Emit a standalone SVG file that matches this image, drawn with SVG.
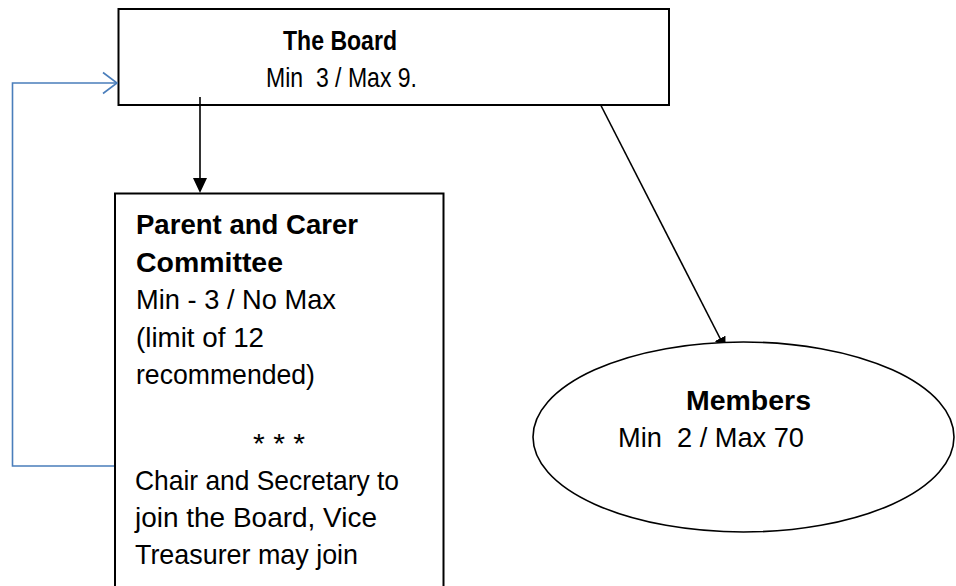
<svg xmlns="http://www.w3.org/2000/svg" width="956" height="586" viewBox="0 0 956 586">
<style>
.box{fill:#fff;stroke:#000;stroke-width:2}
.ell{fill:#fff;stroke:#000;stroke-width:1.6}
.t{font-family:"Liberation Sans",Arial,sans-serif;font-size:27.5px;fill:#000}
.b{font-weight:bold}
.con{fill:none;stroke:#000;stroke-width:1.6}
.blue{fill:none;stroke:#4A7EBB;stroke-width:1.6}
</style>
<defs>
<marker id="ah" markerWidth="12" markerHeight="12" refX="9" refY="5" orient="auto" markerUnits="userSpaceOnUse" viewBox="0 0 10 10">
<path d="M0,0 L10,5 L0,10 z" fill="#000"/>
</marker>
</defs>
<rect fill="#fff" width="956" height="586"/>
<g id="board">
<rect class="box" x="118.5" y="9" width="550.5" height="96"/>
<text class="t b" x="283" y="50" textLength="114" lengthAdjust="spacingAndGlyphs">The Board</text>
<text class="t" x="266" y="87" textLength="151" lengthAdjust="spacingAndGlyphs" xml:space="preserve">Min  3 / Max 9.</text>
</g>
<g id="connectors">
<line class="con" x1="200" y1="97" x2="200" y2="180"/>
<path d="M193,178 L207,178 L200,193 z" fill="#000"/>
<line class="con" x1="600.7" y1="105" x2="725" y2="348" marker-end="url(#ah)"/>
<path class="blue" d="M115,466 L12.5,466 L12.5,83 L117,83"/>
<path class="blue" d="M103,72.5 L117,83 L103,93.5"/>
</g>
<g id="committee">
<rect class="box" x="115" y="193.5" width="328.5" height="420"/>
<text class="t b" x="136" y="234" textLength="222" lengthAdjust="spacingAndGlyphs">Parent and Carer</text>
<text class="t b" x="136" y="271.5" textLength="147" lengthAdjust="spacingAndGlyphs">Committee</text>
<text class="t" x="136" y="309" textLength="200" lengthAdjust="spacingAndGlyphs">Min - 3 / No Max</text>
<text class="t" x="136" y="346.5" textLength="128" lengthAdjust="spacingAndGlyphs">(limit of 12</text>
<text class="t" x="136" y="384" textLength="179" lengthAdjust="spacingAndGlyphs">recommended)</text>
<text class="t" x="253" y="453" textLength="52" lengthAdjust="spacingAndGlyphs">* * *</text>
<text class="t" x="135" y="490" textLength="264" lengthAdjust="spacingAndGlyphs">Chair and Secretary to</text>
<text class="t" x="135" y="527" textLength="242" lengthAdjust="spacingAndGlyphs">join the Board, Vice</text>
<text class="t" x="135" y="564" textLength="223" lengthAdjust="spacingAndGlyphs">Treasurer may join</text>
</g>
<g id="members">
<ellipse class="ell" cx="743.5" cy="437" rx="210.5" ry="95"/>
<text class="t b" x="686" y="410" textLength="125" lengthAdjust="spacingAndGlyphs">Members</text>
<text class="t" x="618" y="446.7" textLength="186" lengthAdjust="spacingAndGlyphs" xml:space="preserve">Min  2 / Max 70</text>
</g>
</svg>
